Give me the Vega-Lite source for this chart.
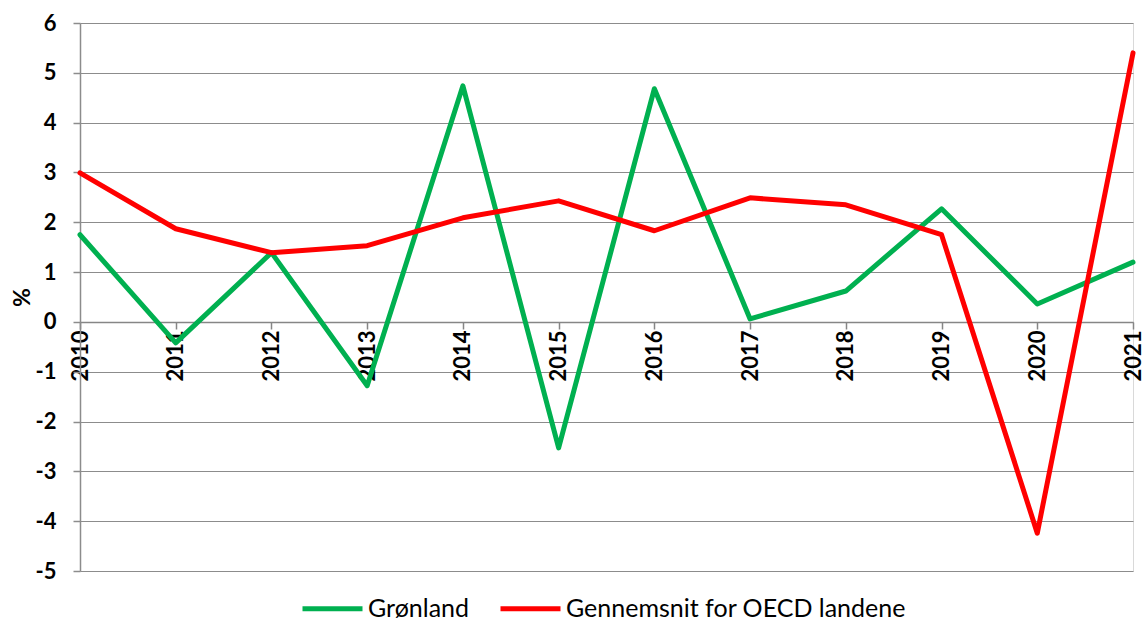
{
  "$schema": "https://vega.github.io/schema/vega-lite/v6.json",
  "autosize": {"type": "none"},
  "padding": {"left": 80, "top": 23, "right": 12, "bottom": 47},
  "width": 1053,
  "height": 548,
  "background": "white",
  "config": {
    "view": {"stroke": "#d9d9d9", "strokeWidth": 1},
    "font": "Lato"
  },
  "data": {
    "values": [
      {"year": 2010, "series": "Grønland", "value": 1.75},
      {"year": 2011, "series": "Grønland", "value": -0.42},
      {"year": 2012, "series": "Grønland", "value": 1.39},
      {"year": 2013, "series": "Grønland", "value": -1.28},
      {"year": 2014, "series": "Grønland", "value": 4.74},
      {"year": 2015, "series": "Grønland", "value": -2.53},
      {"year": 2016, "series": "Grønland", "value": 4.68},
      {"year": 2017, "series": "Grønland", "value": 0.06},
      {"year": 2018, "series": "Grønland", "value": 0.62},
      {"year": 2019, "series": "Grønland", "value": 2.27},
      {"year": 2020, "series": "Grønland", "value": 0.36},
      {"year": 2021, "series": "Grønland", "value": 1.2},
      {"year": 2010, "series": "Gennemsnit for OECD landene", "value": 2.99},
      {"year": 2011, "series": "Gennemsnit for OECD landene", "value": 1.87},
      {"year": 2012, "series": "Gennemsnit for OECD landene", "value": 1.39},
      {"year": 2013, "series": "Gennemsnit for OECD landene", "value": 1.53},
      {"year": 2014, "series": "Gennemsnit for OECD landene", "value": 2.09},
      {"year": 2015, "series": "Gennemsnit for OECD landene", "value": 2.43},
      {"year": 2016, "series": "Gennemsnit for OECD landene", "value": 1.83},
      {"year": 2017, "series": "Gennemsnit for OECD landene", "value": 2.49},
      {"year": 2018, "series": "Gennemsnit for OECD landene", "value": 2.35},
      {"year": 2019, "series": "Gennemsnit for OECD landene", "value": 1.75},
      {"year": 2020, "series": "Gennemsnit for OECD landene", "value": -4.24},
      {"year": 2021, "series": "Gennemsnit for OECD landene", "value": 5.4}
    ]
  },
  "mark": {"type": "line", "strokeWidth": 5, "strokeCap": "round", "strokeJoin": "round"},
  "encoding": {
    "x": {
      "field": "year",
      "type": "quantitative",
      "scale": {"domain": [2010, 2021], "nice": false, "zero": false},
      "axis": {
        "title": null,
        "values": [2010, 2011, 2012, 2013, 2014, 2015, 2016, 2017, 2018, 2019, 2020, 2021],
        "format": "d",
        "labelAngle": -90,
        "labelFont": "Lato",
        "labelFontWeight": "bold",
        "labelFontSize": 22,
        "labelColor": "black",
        "labelPadding": 1,
        "labelFlush": false,
        "labelOverlap": false,
        "grid": false,
        "offset": -249,
        "domainColor": "#868686",
        "domainWidth": 1.5,
        "tickColor": "#868686",
        "tickSize": 7,
        "tickWidth": 1.5
      }
    },
    "y": {
      "field": "value",
      "type": "quantitative",
      "scale": {"domain": [-5, 6], "nice": false},
      "axis": {
        "title": "%",
        "titleFont": "Lato",
        "titleFontSize": 23,
        "titleFontWeight": "bold",
        "titleColor": "black",
        "titleX": -58,
        "titleY": 274,
        "titleAngle": -90,
        "titleAlign": "center",
        "titleBaseline": "middle",
        "values": [-5, -4, -3, -2, -1, 0, 1, 2, 3, 4, 5, 6],
        "labelExpr": "replace(datum.label, '−', '-')",
        "labelFont": "Lato",
        "labelFontWeight": "bold",
        "labelFontSize": 22,
        "labelColor": "black",
        "labelPadding": 17,
        "grid": true,
        "gridColor": "#8c8c8c",
        "gridWidth": 1.2,
        "domainColor": "#8c8c8c",
        "domainWidth": 1.5,
        "tickColor": "#8c8c8c",
        "tickSize": 7,
        "tickWidth": 1.5
      }
    },
    "color": {
      "field": "series",
      "type": "nominal",
      "scale": {"domain": ["Grønland", "Gennemsnit for OECD landene"], "range": ["#00b050", "#ff0000"]},
      "legend": {
        "title": null,
        "orient": "none",
        "direction": "horizontal",
        "legendX": 220,
        "legendY": 553,
        "symbolType": "stroke",
        "symbolSize": 3600,
        "symbolStrokeWidth": 5,
        "labelFont": "Lato",
        "labelFontSize": 25,
        "labelColor": "black",
        "labelOffset": 3,
        "labelLimit": 600,
        "columnPadding": 20
      }
    }
  }
}
